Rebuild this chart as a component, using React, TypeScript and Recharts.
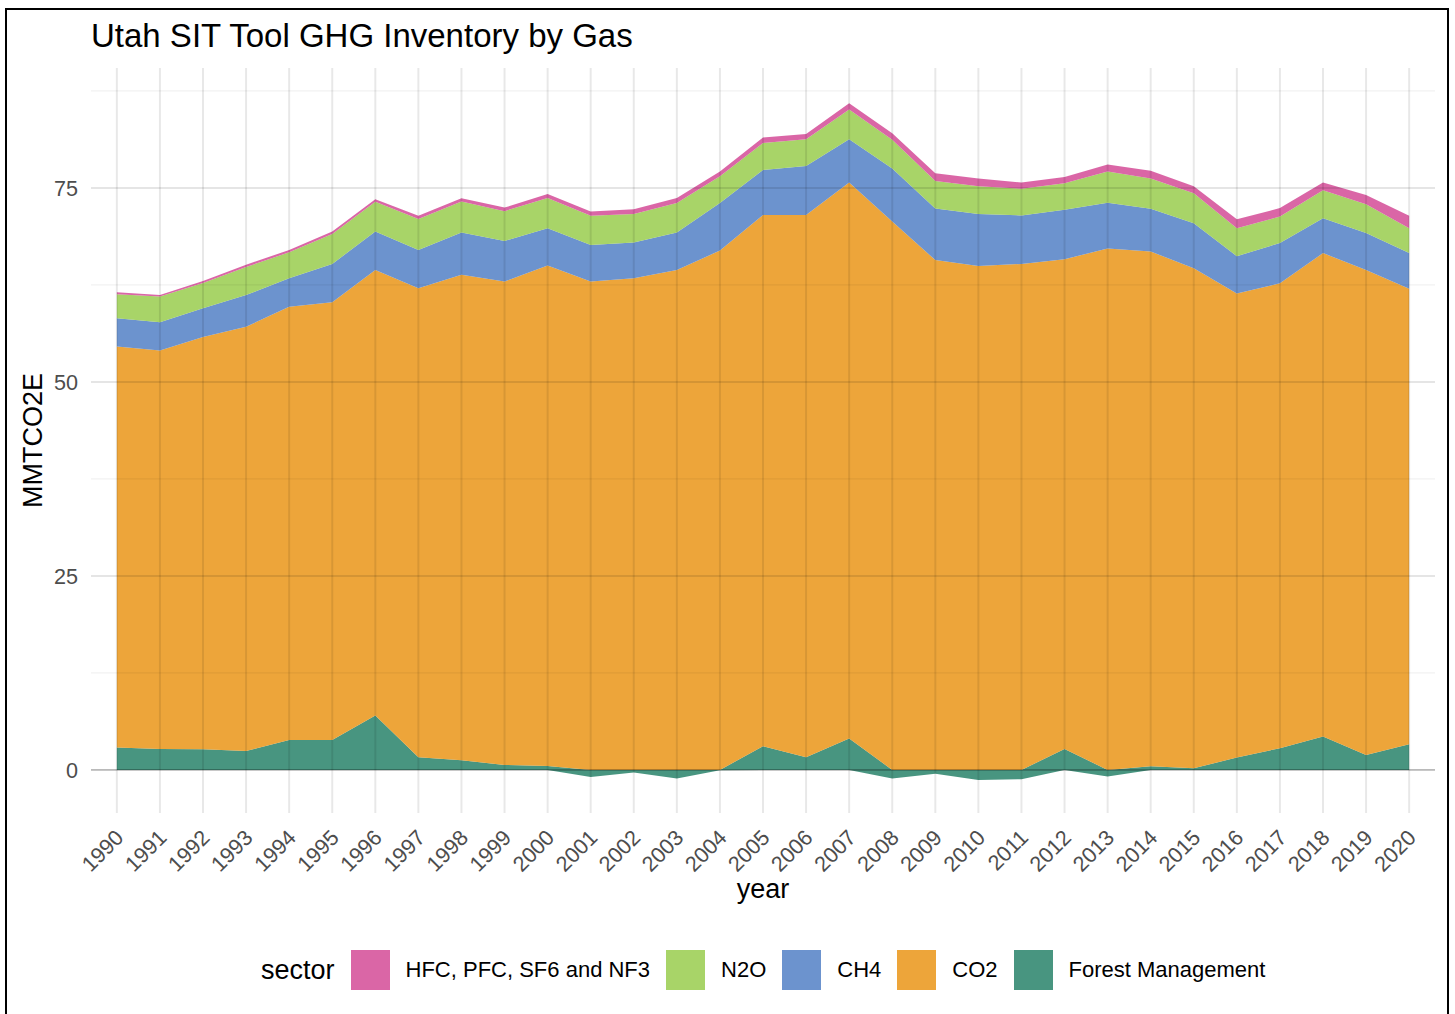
import React from 'react';
import { AreaChart, Area, XAxis, YAxis, ReferenceLine } from 'recharts';

const FONT = '"Liberation Sans", Arial, Helvetica, sans-serif';

const years = [1990, 1991, 1992, 1993, 1994, 1995, 1996, 1997, 1998, 1999, 2000, 2001, 2002, 2003, 2004, 2005, 2006, 2007, 2008, 2009, 2010, 2011, 2012, 2013, 2014, 2015, 2016, 2017, 2018, 2019, 2020];
const forest = [2.9, 2.7, 2.65, 2.45, 3.85, 3.85, 7.0, 1.63, 1.25, 0.64, 0.52, -0.9, -0.34, -1.1, -0.05, 3.05, 1.63, 4.05, -1.1, -0.5, -1.3, -1.2, 2.7, -0.86, 0.47, 0.21, 1.6, 2.8, 4.3, 1.93, 3.3];
const co2 = [51.65, 51.34, 53.15, 54.65, 55.85, 56.4, 57.43, 60.43, 62.55, 62.29, 64.48, 62.93, 63.36, 64.43, 66.92, 68.47, 69.89, 71.66, 70.66, 65.7, 64.95, 65.2, 63.1, 67.2, 66.33, 64.44, 59.8, 59.9, 62.3, 62.5, 58.7];
const ch4 = [3.65, 3.66, 3.7, 4.1, 3.66, 4.95, 4.94, 4.94, 5.45, 5.24, 4.8, 4.72, 4.6, 4.82, 6.14, 5.78, 6.31, 5.57, 6.84, 6.65, 6.7, 6.25, 6.4, 5.9, 5.5, 5.8, 4.8, 5.2, 4.5, 4.77, 4.6];
const n2o = [3.1, 3.3, 3.25, 3.6, 3.34, 3.85, 3.83, 4.0, 4.0, 3.83, 3.9, 3.75, 3.69, 3.81, 3.44, 3.5, 3.44, 3.83, 3.7, 3.55, 3.55, 3.45, 3.4, 4.0, 3.9, 3.85, 3.6, 3.4, 3.6, 3.7, 3.2];
const hfc = [0.26, 0.2, 0.25, 0.3, 0.3, 0.32, 0.34, 0.4, 0.42, 0.46, 0.5, 0.55, 0.6, 0.64, 0.6, 0.7, 0.69, 0.8, 0.85, 1.0, 1.0, 0.8, 0.8, 0.9, 1.0, 0.9, 1.16, 1.1, 1.0, 1.2, 1.6];

const yTicks = [0, 25, 50, 75];
const yMinorTicks = [12.5, 37.5, 62.5, 87.5];

const seriesNames = ['Forest Management', 'CO2', 'CH4', 'N2O', 'HFC, PFC, SF6 and NF3'];
const seriesColors = ['#28836A', '#EA9517', '#5280C5', '#99CC4D', '#D34B96'];
const legendOrder = [4, 3, 2, 1, 0];
const OPACITY = 0.85;

// Forest Management is split into its positive and negative parts so that
// the sign-stacked layers above it sit on it without gaps.
const data = years.map((year, i) => ({
  year,
  forestNeg: Math.min(forest[i], 0),
  forestPos: Math.max(forest[i], 0),
  co2: co2[i],
  ch4: ch4[i],
  n2o: n2o[i],
  hfc: hfc[i],
}));

const areaDefs = [
  { key: 'forestNeg', idx: 0 },
  { key: 'forestPos', idx: 0 },
  { key: 'co2', idx: 1 },
  { key: 'ch4', idx: 2 },
  { key: 'n2o', idx: 3 },
  { key: 'hfc', idx: 4 },
];

const XTick = (props: any) => {
  const { x, y, payload } = props;
  return (
    <g transform={`translate(${x + 8},${y + 26})`}>
      <text
        textAnchor="end"
        transform="rotate(-45)"
        fontSize={21.6}
        fill="#4D4D4D"
        fontFamily={FONT}
      >
        {payload.value}
      </text>
    </g>
  );
};

const YTitle = (props: any) => {
  const vb = props.viewBox || { x: 0, y: 68, width: 91, height: 745 };
  const cx = vb.x + 42;
  const cy = vb.y + vb.height / 2;
  return (
    <text
      x={cx}
      y={cy}
      transform={`rotate(-90 ${cx} ${cy})`}
      textAnchor="middle"
      fontSize={27}
      fill="#000"
      fontFamily={FONT}
    >
      MMTCO2E
    </text>
  );
};

const XTitle = (props: any) => {
  const vb = props.viewBox || { x: 91, y: 813, width: 1344, height: 97 };
  const cx = vb.x + vb.width / 2;
  const cy = vb.y + 85;
  return (
    <text x={cx} y={cy} textAnchor="middle" fontSize={27} fill="#000" fontFamily={FONT}>
      year
    </text>
  );
};

export default function App() {
  return (
    <div
      style={{
        position: 'relative',
        width: 1455,
        height: 1014,
        overflow: 'hidden',
        background: '#fff',
        fontFamily: FONT,
      }}
    >
      <style>{`html,body{margin:0;padding:0;overflow:hidden;background:#fff;}`}</style>
      <div
        style={{
          position: 'absolute',
          left: 5,
          top: 8,
          width: 1444,
          height: 1030,
          border: '2px solid #000',
          boxSizing: 'border-box',
        }}
      />
      <div
        style={{
          position: 'absolute',
          left: 91,
          top: 20,
          fontSize: 33,
          lineHeight: '32px',
          color: '#000',
          whiteSpace: 'nowrap',
        }}
      >
        Utah SIT Tool GHG Inventory by Gas
      </div>
      <div style={{ position: 'absolute', left: 0, top: 0 }}>
        <AreaChart
          width={1455}
          height={910}
          data={data}
          stackOffset="sign"
          margin={{ top: 68, right: 20, left: 0, bottom: 0 }}
        >
          <XAxis
            dataKey="year"
            type="number"
            domain={[1989.4, 2020.6]}
            ticks={years}
            interval={0}
            allowDataOverflow
            axisLine={false}
            tickLine={false}
            tickSize={0}
            tickMargin={0}
            height={97}
            tick={<XTick />}
            label={{ content: XTitle }}
          />
          <YAxis
            domain={[-5.55, 90.45]}
            ticks={yTicks}
            allowDataOverflow
            axisLine={false}
            tickLine={false}
            tickSize={0}
            tickMargin={13}
            width={91}
            tick={{ fontSize: 21.6, fill: '#4D4D4D', fontFamily: FONT }}
            label={{ content: YTitle }}
          />
          {areaDefs.map((d) => (
            <Area
              key={d.key}
              type="linear"
              dataKey={d.key}
              name={seriesNames[d.idx]}
              stackId="1"
              stroke="none"
              fill={seriesColors[d.idx]}
              fillOpacity={OPACITY}
              isAnimationActive={false}
              dot={false}
              activeDot={false}
              legendType="none"
            />
          ))}
          {yMinorTicks.map((v) => (
            <ReferenceLine key={`ym${v}`} y={v} stroke="#000" strokeOpacity={0.055} strokeWidth={1.2} />
          ))}
          {yTicks.map((v) => (
            <ReferenceLine key={`y${v}`} y={v} stroke="#000" strokeOpacity={0.1} strokeWidth={2} />
          ))}
          {years.map((v) => (
            <ReferenceLine key={`x${v}`} x={v} stroke="#000" strokeOpacity={0.09} strokeWidth={2} />
          ))}
          <ReferenceLine y={0} stroke="#000" strokeOpacity={0.25} strokeWidth={1.2} />
        </AreaChart>
      </div>
      <div
        style={{
          position: 'absolute',
          left: 261,
          top: 950,
          height: 40,
          display: 'flex',
          alignItems: 'center',
          whiteSpace: 'nowrap',
        }}
      >
        <span style={{ fontSize: 27, color: '#000', marginRight: 16 }}>sector</span>
        {legendOrder.map((idx) => (
          <React.Fragment key={seriesNames[idx]}>
            <span
              style={{
                display: 'inline-block',
                width: 39,
                height: 40,
                background: seriesColors[idx],
                opacity: OPACITY,
                marginRight: 16,
              }}
            />
            <span style={{ fontSize: 22, color: '#000', marginRight: 16 }}>{seriesNames[idx]}</span>
          </React.Fragment>
        ))}
      </div>
    </div>
  );
}
